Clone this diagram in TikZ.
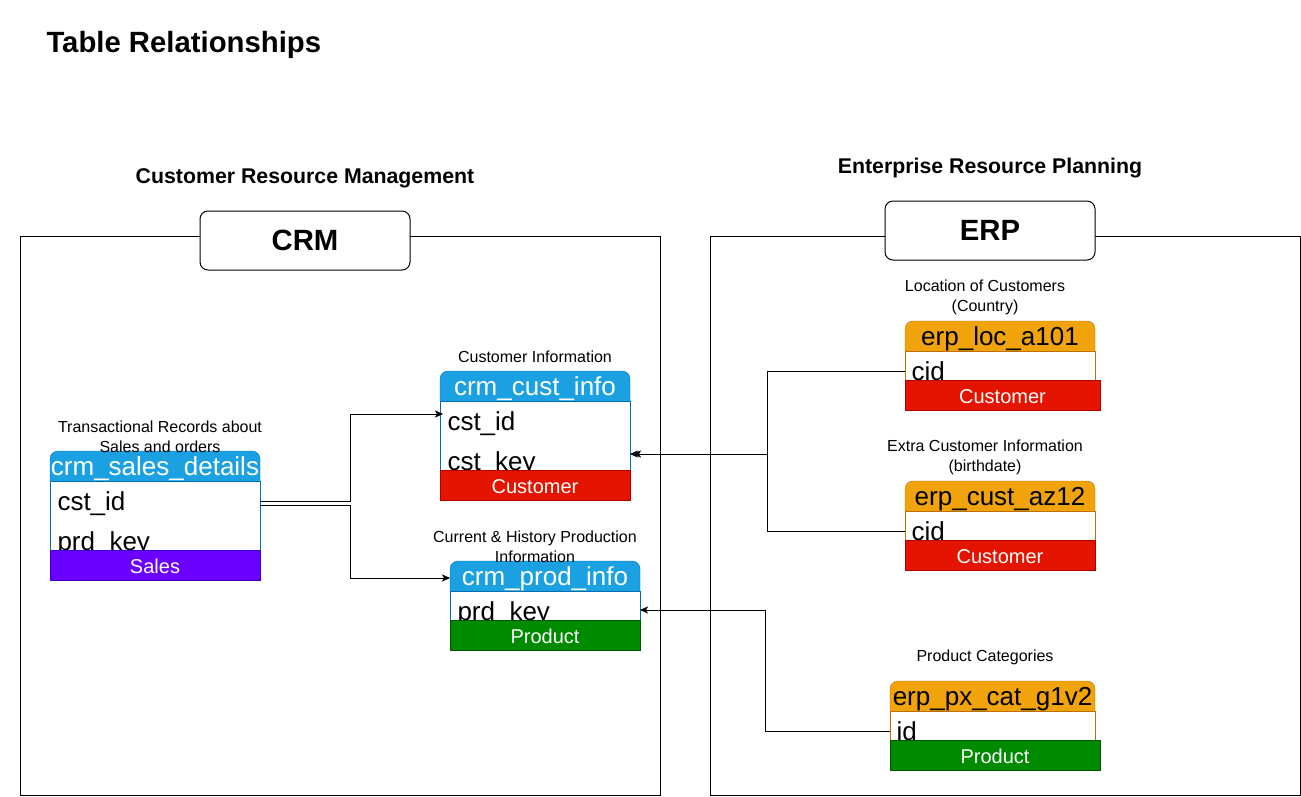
\documentclass[tikz,border=0pt]{standalone}
\usepackage{fontspec}
\setmainfont{Liberation Sans}
\usetikzlibrary{arrows.meta,positioning,backgrounds}

\definecolor{crmfill}{HTML}{1BA1E2}
\definecolor{crmline}{HTML}{006EAF}
\definecolor{erpfill}{HTML}{F0A30A}
\definecolor{erpline}{HTML}{BD7000}
\definecolor{custred}{HTML}{E51400}
\definecolor{custline}{HTML}{B20000}
\definecolor{prodgreen}{HTML}{008A00}
\definecolor{prodline}{HTML}{005700}
\definecolor{salespurple}{HTML}{6A00FF}
\definecolor{salesline}{HTML}{3700CC}

\begin{document}
\begin{tikzpicture}[x=1pt,y=-1pt,line width=1pt,
                    >={Stealth[length=8pt,width=7pt,inset=2pt]}]
  \tikzstyle{group}=[draw=black,anchor=north west,inner sep=0,outer sep=0]
  \tikzstyle{groupname}=[draw=black,fill=white,rounded corners=8pt,minimum width=210,
                         minimum height=59,font=\fontsize{29.3}{34}\selectfont\bfseries]
  \tikzstyle{heading}=[font=\fontsize{21.3}{25}\selectfont\bfseries]
  \tikzstyle{note}=[align=center,inner sep=0,font=\fontsize{16}{20}\selectfont]
  \tikzstyle{hdr}=[anchor=north west,minimum height=30,inner sep=0,outer sep=0,
                   text height=23.5pt,text depth=5.5pt,font=\fontsize{26}{30}\selectfont]
  \tikzstyle{body}=[anchor=north west,draw,fill=white,inner sep=0,outer sep=0]
  \tikzstyle{row}=[anchor=west,inner sep=0,text height=23.5pt,text depth=5.5pt,
                   font=\fontsize{26}{30}\selectfont]
  \tikzstyle{foot}=[anchor=north west,minimum height=30,inner sep=0,outer sep=0,
                    text height=20pt,text depth=2.3pt,text=white,font=\fontsize{20}{24}\selectfont]
  \tikzstyle{link}=[->,draw=black]

  \useasboundingbox (0,0) rectangle (1301,796);

  \node[anchor=base west,inner sep=0,font=\fontsize{29.3}{34}\selectfont\bfseries]
    (title) at (46,52) {Table Relationships};

  % groups
  \node[group,minimum width=640,minimum height=559] (crm) at (20,236) {};
  \node[group,minimum width=590,minimum height=559] (erp) at (710,236) {};
  \node[groupname] (crmname) at (305,240.5) {CRM};
  \node[groupname] (erpname) at (990,230.5) {ERP};
  \node[heading] (crmhead) at (305,178) {Customer Resource Management};
  \node[heading] (erphead) at (990,168) {Enterprise Resource Planning};

  % crm_sales_details
  \node[note] (sales-note) at (160,437) {Transactional Records about\\Sales and orders};
  \node[hdr,text=white,minimum width=210] (sales-hdr) at (50,451) {crm\_sales\_details};
  \node[body,draw=crmline,minimum width=210,minimum height=69] (sales-body) at (sales-hdr.south west) {};
  \node[row] (sales-cst) at ([xshift=7pt,yshift=-20pt]sales-body.north west) {cst\_id};
  \node[row] (sales-prd) at ([xshift=7pt,yshift=-60pt]sales-body.north west) {prd\_key};
  \node[foot,fill=salespurple,draw=salesline,minimum width=210] (sales-foot) at (sales-body.south west) {Sales};

  % crm_cust_info
  \node[note] (cust-note) at (535,357) {Customer Information};
  \node[hdr,text=white,minimum width=190] (cust-hdr) at (440,371) {crm\_cust\_info};
  \node[body,draw=crmline,minimum width=190,minimum height=69] (cust-body) at (cust-hdr.south west) {};
  \node[row] (cust-cst) at ([xshift=7pt,yshift=-20pt]cust-body.north west) {cst\_id};
  \node[row] (cust-key) at ([xshift=7pt,yshift=-60pt]cust-body.north west) {cst\_key};
  \node[foot,fill=custred,draw=custline,minimum width=190] (cust-foot) at (cust-body.south west) {Customer};

  % crm_prod_info
  \node[note] (prod-note) at (535,547) {Current \& History Production\\Information};
  \node[hdr,text=white,minimum width=190] (prod-hdr) at (450,561) {crm\_prod\_info};
  \node[body,draw=crmline,minimum width=190,minimum height=29] (prod-body) at (prod-hdr.south west) {};
  \node[row] (prod-key) at ([xshift=7pt,yshift=-20pt]prod-body.north west) {prd\_key};
  \node[foot,fill=prodgreen,draw=prodline,minimum width=190] (prod-foot) at (prod-body.south west) {Product};

  % erp_loc_a101
  \node[note] (loc-note) at (985,297) {Location of Customers\\(Country)};
  \node[hdr,minimum width=190] (loc-hdr) at (905,321) {erp\_loc\_a101};
  \node[body,draw=erpline,minimum width=190,minimum height=29] (loc-body) at (loc-hdr.south west) {};
  \node[row] (loc-cid) at ([xshift=6pt,yshift=-20pt]loc-body.north west) {cid};
  \node[foot,fill=custred,draw=custline,minimum width=195] (loc-foot) at (loc-body.south west) {Customer};

  % erp_cust_az12
  \node[note] (az-note) at (985,457) {Extra Customer Information\\(birthdate)};
  \node[hdr,minimum width=190] (az-hdr) at (905,481) {erp\_cust\_az12};
  \node[body,draw=erpline,minimum width=190,minimum height=29] (az-body) at (az-hdr.south west) {};
  \node[row] (az-cid) at ([xshift=6pt,yshift=-20pt]az-body.north west) {cid};
  \node[foot,fill=custred,draw=custline,minimum width=190] (az-foot) at (az-body.south west) {Customer};

  % erp_px_cat_g1v2
  \node[note] (px-note) at (985,657) {Product Categories};
  \node[hdr,minimum width=205] (px-hdr) at (890,681) {erp\_px\_cat\_g1v2};
  \node[body,draw=erpline,minimum width=205,minimum height=29] (px-body) at (px-hdr.south west) {};
  \node[row] (px-id) at ([xshift=6pt,yshift=-20pt]px-body.north west) {id};
  \node[foot,fill=prodgreen,draw=prodline,minimum width=210] (px-foot) at (px-body.south west) {Product};

  % header fills, rounded on top only
  \begin{pgfonlayer}{background}
    \foreach \t/\f/\d in {sales/crmfill/crmline,cust/crmfill/crmline,prod/crmfill/crmline,
                          loc/erpfill/erpline,az/erpfill/erpline,px/erpfill/erpline}
      \draw[fill=\f,draw=\d,rounded corners=8pt] (\t-hdr.south west) -- (\t-hdr.north west)
        -- (\t-hdr.north east) -- (\t-hdr.south east);
  \end{pgfonlayer}

  % relationships
  \draw[link,shorten >=-3pt] (sales-body.east |- sales-cst) -- ++(90,0)
    |- ([yshift=7pt]cust-body.west |- cust-cst);
  \draw[link] ([yshift=-4pt]sales-body.east |- sales-cst) -- ++(90,0)
    |- ([yshift=-2pt]prod-hdr.west);
  \draw[link,shorten >=3pt] (loc-body.west |- loc-cid) -- ++(-138,0)
    |- ([yshift=7pt]cust-body.east |- cust-key);
  \draw[link] (az-body.west |- az-cid) -- ++(-138,0)
    |- ([yshift=7pt]cust-body.east |- cust-key);
  \draw[link] (px-body.west |- px-id) -- ++(-125,0)
    |- ([yshift=1pt]prod-body.east |- prod-key);
\end{tikzpicture}
\end{document}
